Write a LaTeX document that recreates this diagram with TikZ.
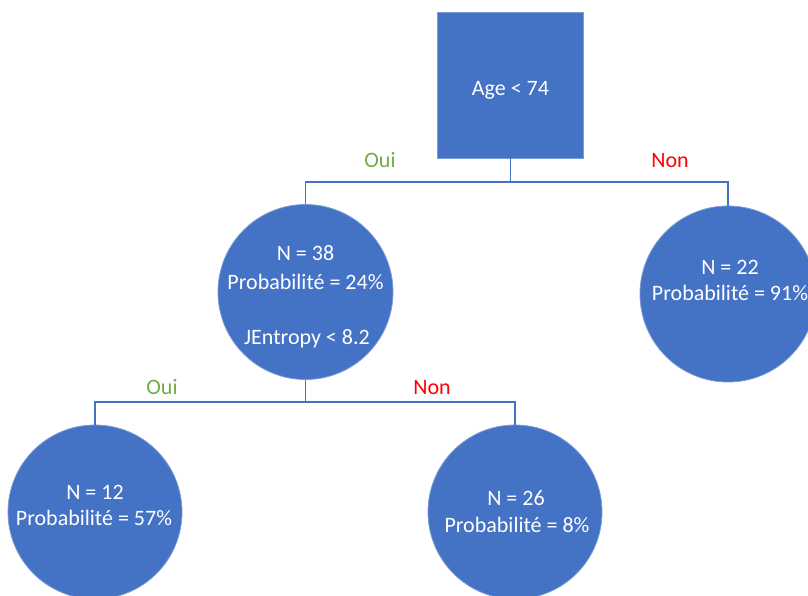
\documentclass[tikz,border=0pt]{standalone}
\usepackage{fontspec}
\setmainfont{Carlito}
\definecolor{offblue}{HTML}{4472C4}
\definecolor{ouigreen}{HTML}{70AD47}
\definecolor{nonred}{HTML}{FF0000}
\begin{document}
\begin{tikzpicture}[x=1pt,y=-1pt,
  box/.style={rectangle,fill=offblue,draw=offblue!70!white,line width=0.8pt,minimum size=146pt,inner sep=0pt},
  leaf/.style={circle,fill=offblue,draw=offblue!70!white,line width=0.8pt,minimum size=#1,inner sep=0pt},
  txt/.style={text=white,font=\fontsize{22}{26}\selectfont,anchor=base,inner sep=0pt},
  lbl/.style={font=\fontsize{22}{26}\selectfont,anchor=base,inner sep=0pt},
  conn/.style={draw=offblue,line width=1.4pt}]
\useasboundingbox (0,0) rectangle (808,595);
\clip (0,0) rectangle (808,595);
\fill[white] (0,0) rectangle (808,595);
% nodes
\node[box] (sq) at (510.5,85) {};
\node[leaf=175pt] (c1) at (305.5,292) {};
\node[leaf=176pt] (c2) at (728,294) {};
\node[leaf=174pt] (c3) at (95,512) {};
\node[leaf=174pt] (c4) at (515,512) {};
% junctions
\coordinate (j1) at (510.5,182);
\coordinate (j2) at (305.5,402);
% connectors
\draw[conn] (sq.south) -- (j1);
\draw[conn] (j1) -| (c1.north);
\draw[conn] (j1) -| (c2.north);
\draw[conn] (c1.south) -- (j2);
\draw[conn] (j2) -| (c3.north);
\draw[conn] (j2) -| (c4.north);
% texts
\node[txt] (tsq) at (510.5,95) {Age < 74};
\node[txt] (t1a) at (305.5,260) {N = 38};
\node[txt] (t1b) at (305.5,289) {Probabilité = 24\%};
\node[txt] (t1c) at (307,344) {JEntropy < 8.2};
\node[txt] (t2a) at (730,274) {N = 22};
\node[txt] (t2b) at (730,300) {Probabilité = 91\%};
\node[txt] (t3a) at (95,499) {N = 12};
\node[txt] (t3b) at (94,525) {Probabilité = 57\%};
\node[txt] (t4a) at (516,505) {N = 26};
\node[txt] (t4b) at (517,532) {Probabilité = 8\%};
% branch labels
\node[lbl,text=ouigreen] (o1) at (380,167) {Oui};
\node[lbl,text=nonred] (n1) at (670,167) {Non};
\node[lbl,text=ouigreen] (o2) at (162,394) {Oui};
\node[lbl,text=nonred] (n2) at (432,394) {Non};
\end{tikzpicture}
\end{document}
